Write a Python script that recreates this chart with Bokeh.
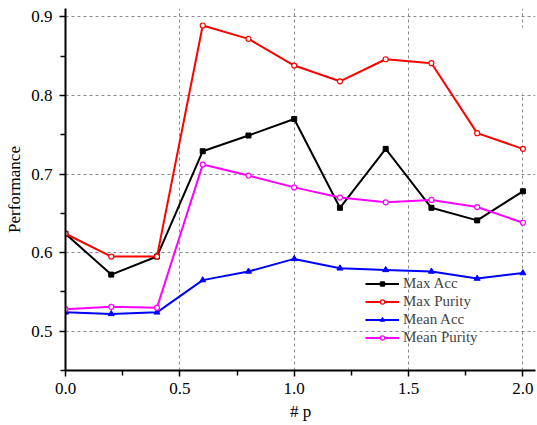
from bokeh.plotting import figure
from bokeh.embed import file_html
from bokeh.resources import INLINE
from bokeh.models import FixedTicker, PrintfTickFormatter, Range1d, Legend, BoxAnnotation

# parameter p and the four performance series
p_values = [0.0, 0.2, 0.4, 0.6, 0.8, 1.0, 1.2, 1.4, 1.6, 1.8, 2.0]
max_acc = [0.624, 0.572, 0.595, 0.729, 0.749, 0.770, 0.657, 0.732, 0.657, 0.641, 0.678]
max_purity = [0.624, 0.595, 0.595, 0.889, 0.872, 0.838, 0.818, 0.846, 0.841, 0.752, 0.732]
mean_acc = [0.524, 0.522, 0.524, 0.565, 0.576, 0.592, 0.580, 0.578, 0.576, 0.567, 0.574]
mean_purity = [0.528, 0.531, 0.530, 0.712, 0.698, 0.683, 0.670, 0.664, 0.667, 0.658, 0.638]

x_ticks = [0.0, 0.5, 1.0, 1.5, 2.0]
x_minor = [0.25, 0.75, 1.25, 1.75]
y_ticks = [0.5, 0.6, 0.7, 0.8, 0.9]
y_minor = [0.45, 0.55, 0.65, 0.75, 0.85]

FONT = "Liberation Serif"

p = figure(width=537, height=425, output_backend="svg", toolbar_location=None,
           x_range=Range1d(0.0, 2.055), y_range=Range1d(0.45, 0.9106),
           min_border_left=65, min_border_right=2, min_border_top=8,
           min_border_bottom=55)
p.outline_line_color = None
p.background_fill_color = "white"
p.border_fill_color = "white"

# axes
p.xaxis.ticker = FixedTicker(ticks=x_ticks, minor_ticks=x_minor)
p.yaxis.ticker = FixedTicker(ticks=y_ticks, minor_ticks=y_minor)
p.xaxis.formatter = PrintfTickFormatter(format="%.1f")
p.yaxis.formatter = PrintfTickFormatter(format="%.1f")
p.xaxis.axis_label = "# p"
p.yaxis.axis_label = "Performance"
for ax in (p.xaxis, p.yaxis):
    ax.axis_line_width = 2
    ax.axis_line_color = "black"
    ax.major_tick_line_width = 1.5
    ax.minor_tick_line_width = 1.5
    ax.major_tick_in = 0
    ax.minor_tick_in = 0
    ax.major_tick_out = 6
    ax.minor_tick_out = 5
    ax.major_label_text_font = FONT
    ax.major_label_text_font_size = "17px"
    ax.major_label_text_color = "black"
    ax.axis_label_text_font = FONT
    ax.axis_label_text_font_size = "17px"
    ax.axis_label_text_font_style = "normal"
    ax.axis_label_text_color = "black"
p.xaxis.major_label_standoff = 6
p.yaxis.major_label_standoff = 7
p.xaxis.axis_label_standoff = 5
p.yaxis.axis_label_standoff = 4

# dashed grid
for g in (p.xgrid, p.ygrid):
    g.grid_line_color = "#888888"
    g.grid_line_dash = "3 3"
    g.grid_line_width = 1

# white patch behind the legend: hides the grid but stays under the data lines
legend_bg = BoxAnnotation(left=360, right=474, top=277, bottom=343,
                          left_units="screen", right_units="screen",
                          top_units="screen", bottom_units="screen",
                          fill_color="white", fill_alpha=1.0, line_color=None,
                          level="underlay", editable=False)
p.add_layout(legend_bg)

lw = 2
l1 = p.line(p_values, max_acc, line_color="black", line_width=lw)
s1 = p.scatter(p_values, max_acc, marker="square", size=5, color="black")
l2 = p.line(p_values, max_purity, line_color="red", line_width=lw)
s2 = p.scatter(p_values, max_purity, marker="circle", size=5, line_color="red",
               fill_color="white", line_width=1.2)
l3 = p.line(p_values, mean_acc, line_color="blue", line_width=lw)
s3 = p.scatter(p_values, mean_acc, marker="triangle", size=6, color="blue")
l4 = p.line(p_values, mean_purity, line_color="magenta", line_width=lw)
s4 = p.scatter(p_values, mean_purity, marker="circle", size=5, line_color="magenta",
               fill_color="white", line_width=1.2)

legend = Legend(items=[("Max Acc", [l1, s1]), ("Max Purity", [l2, s2]),
                       ("Mean Acc", [l3, s3]), ("Mean Purity", [l4, s4])],
                location=(300, 24))
legend.label_text_font = FONT
legend.label_text_font_size = "15px"
legend.label_height = 18
legend.glyph_height = 11
legend.glyph_width = 34
legend.label_standoff = 4
legend.spacing = 0
legend.padding = 0
legend.margin = 0
legend.border_line_color = None
legend.background_fill_alpha = 0.0
p.add_layout(legend, "center")

open("out.html", "w").write(file_html(p, INLINE))
